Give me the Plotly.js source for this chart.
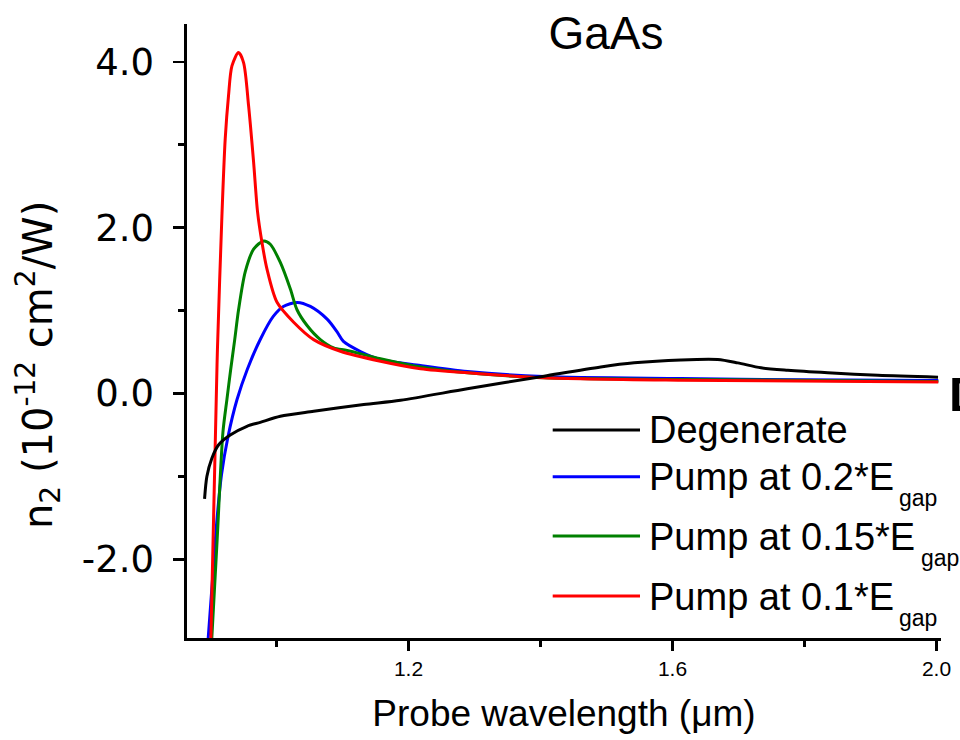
<!DOCTYPE html>
<html><head><meta charset="utf-8">
<script src="https://cdn.plot.ly/plotly-3.0.1.min.js"></script>
<style>html,body{margin:0;padding:0;background:#fff;overflow:hidden}#chart{width:960px;height:740px}</style>
</head><body><div id="chart"></div>
<script>
// ---- data ----
const seriesNames = ['Degenerate', 'Pump at 0.2*E', 'Pump at 0.15*E', 'Pump at 0.1*E'];
const seriesSubs = ['', 'gap', 'gap', 'gap'];

const degX = [0.891, 0.8945, 0.9021, 0.9121, 0.9299, 0.9552, 0.9754, 1.0058, 1.0563, 1.1322, 1.1879, 1.2891, 1.4053, 1.4913, 1.5419, 1.6127, 1.6684, 1.6988, 1.7341, 1.7747, 1.8353, 1.9112, 2.0023];
const degY = [-1.27, -1.00, -0.78, -0.62, -0.50, -0.395, -0.347, -0.274, -0.214, -0.133, -0.081, 0.057, 0.209, 0.32, 0.37, 0.405, 0.41, 0.37, 0.31, 0.28, 0.25, 0.22, 0.197];

const p20X = [0.8956, 0.903, 0.9098, 0.9167, 0.9265, 0.9402, 0.9557, 0.9754, 0.9951, 1.0103, 1.0316, 1.0513, 1.0771, 1.0923, 1.1014, 1.1272, 1.1575, 1.2182, 1.2895, 1.4049, 1.6127, 1.795, 2.0027];
const p20Y = [-3.05, -2.246, -1.52, -0.978, -0.52, -0.072, 0.29, 0.652, 0.93, 1.05, 1.099, 1.05, 0.894, 0.737, 0.628, 0.507, 0.41, 0.338, 0.266, 0.205, 0.18, 0.165, 0.157];

const p15X = [0.9013, 0.9101, 0.9188, 0.9249, 0.9306, 0.9367, 0.9425, 0.9527, 0.9653, 0.9805, 0.9906, 1.0058, 1.021, 1.0311, 1.0463, 1.0665, 1.0866, 1.107, 1.1575, 1.2182, 1.2895, 1.4049, 1.6127, 2.0027];
const p15Y = [-3.05, -1.76, -0.47, -0.07, 0.29, 0.65, 1.01, 1.47, 1.74, 1.84, 1.80, 1.58, 1.26, 1.01, 0.82, 0.65, 0.55, 0.52, 0.42, 0.32, 0.25, 0.19, 0.17, 0.145];

const p10X = [0.9003, 0.9087, 0.9105, 0.9173, 0.9223, 0.9273, 0.9325, 0.9425, 0.9501, 0.9577, 0.9653, 0.9713, 0.978, 0.9856, 1.0008, 1.026, 1.0563, 1.0968, 1.1575, 1.2182, 1.2895, 1.4049, 1.6127, 2.0027];
const p10Y = [-3.05, -0.07, 0.53, 2.14, 3.07, 3.59, 3.95, 4.11, 3.99, 3.47, 2.79, 2.19, 1.82, 1.50, 1.10, 0.86, 0.65, 0.51, 0.39, 0.30, 0.25, 0.19, 0.16, 0.139];

const xTickVals = [1.2, 1.6, 2.0];
const xTickText = ['1.2', '1.6', '2.0'];
const xMinorVals = [1.0, 1.4, 1.8];
const yTickVals = [-2, 0, 2, 4];
const yTickText = ['-2.0', '0.0', '2.0', '4.0'];
const yMinorVals = [-1, 1, 3];

// ---- styling / layout ----
const colors = ['#000000', '#0000ff', '#008000', '#ff0000'];
const SANS = 'Liberation Sans, Arial, Helvetica, sans-serif';
const HUM = 'DejaVu Sans, Verdana, sans-serif';
const L = 187, R = 941, T = 24, B = 638;
const px = v => (v - L) / (R - L);
const py = v => (B - v) / (B - T);

const mk = (x, y, i) => ({x: x, y: y, type: 'scatter', mode: 'lines', name: seriesNames[i] + (seriesSubs[i] ? '<sub>' + seriesSubs[i] + '</sub>' : ''),
  line: {color: colors[i], width: 3, shape: 'spline', smoothing: 0.8}, showlegend: false, hoverinfo: 'skip'});
const traces = [mk(p20X, p20Y, 1), mk(p15X, p15Y, 2), mk(p10X, p10Y, 3), mk(degX, degY, 0)];

const legendRowsY = [430, 476.7, 536, 596];
const legendTops = [407, 453.6, 513.6, 573.6];
const subLeft = [0, 897, 918.7, 897];
const subTops = [0, 483.2, 543.2, 603.2];
const shapes = [], annotations = [];
[0, 1, 2, 3].forEach(i => {
  shapes.push({type: 'line', xref: 'paper', yref: 'paper', x0: px(552.7), x1: px(640), y0: py(legendRowsY[i]), y1: py(legendRowsY[i]),
    line: {color: colors[i], width: 3}});
  annotations.push({xref: 'paper', yref: 'paper', x: px(646.7), y: py(legendTops[i]), xanchor: 'left', yanchor: 'top',
    showarrow: false, text: seriesNames[i], font: {family: SANS, size: 38, color: '#000'}});
  if (seriesSubs[i]) {
    annotations.push({xref: 'paper', yref: 'paper', x: px(subLeft[i]), y: py(subTops[i]), xanchor: 'left', yanchor: 'top',
      showarrow: false, text: seriesSubs[i], font: {family: SANS, size: 23, color: '#000'}});
  }
});
annotations.push({xref: 'paper', yref: 'paper', x: px(38), y: py(365), xanchor: 'center', yanchor: 'middle', textangle: -90,
  showarrow: false, text: 'n<sub>2</sub> (10<sup>-12</sup> cm<sup>2</sup>/W)', font: {family: HUM, size: 40, color: '#000'}});
annotations.push({xref: 'paper', yref: 'paper', x: px(947.4), y: py(364.7), xanchor: 'left', yanchor: 'top',
  showarrow: false, text: '<b>D</b>', font: {family: SANS, size: 49, color: '#000'}});

const layout = {
  width: 960, height: 740,
  margin: {l: L, r: 960 - R, t: T, b: 740 - B, pad: 0},
  paper_bgcolor: '#fff', plot_bgcolor: '#fff',
  showlegend: false,
  title: {text: 'GaAs', font: {family: SANS, size: 46, color: '#000'}, x: 606 / 960, xanchor: 'center', xref: 'container',
    y: 1 - 33 / 740, yref: 'container', yanchor: 'middle'},
  xaxis: {range: [0.8644, 2.0068], showgrid: false, zeroline: false, showline: true, linecolor: '#000', linewidth: 2.6,
    tickmode: 'array', tickvals: xTickVals, ticktext: xTickText, ticks: 'outside', ticklen: 10, tickwidth: 2.4, tickcolor: '#000',
    minor: {tickmode: 'array', tickvals: xMinorVals, ticks: 'outside', ticklen: 6, tickwidth: 2.4, tickcolor: '#000'},
    tickfont: {family: SANS, size: 21, color: '#000'}, ticklabelstandoff: 0,
    title: {text: 'Probe wavelength (\u03bcm)', font: {family: SANS, size: 37, color: '#000'}, standoff: 22}, automargin: false},
  yaxis: {range: [-2.947, 4.455], showgrid: false, zeroline: false, showline: true, linecolor: '#000', linewidth: 2.6,
    tickmode: 'array', tickvals: yTickVals, ticktext: yTickText, ticks: 'outside', ticklen: 11, tickwidth: 2.4, tickcolor: '#000',
    minor: {tickmode: 'array', tickvals: yMinorVals, ticks: 'outside', ticklen: 6, tickwidth: 2.4, tickcolor: '#000'},
    tickfont: {family: HUM, size: 37, color: '#000'}, ticklabelstandoff: 12, automargin: false},
  shapes: shapes, annotations: annotations
};
Plotly.newPlot('chart', traces, layout, {displayModeBar: false, staticPlot: true});
</script></body></html>
